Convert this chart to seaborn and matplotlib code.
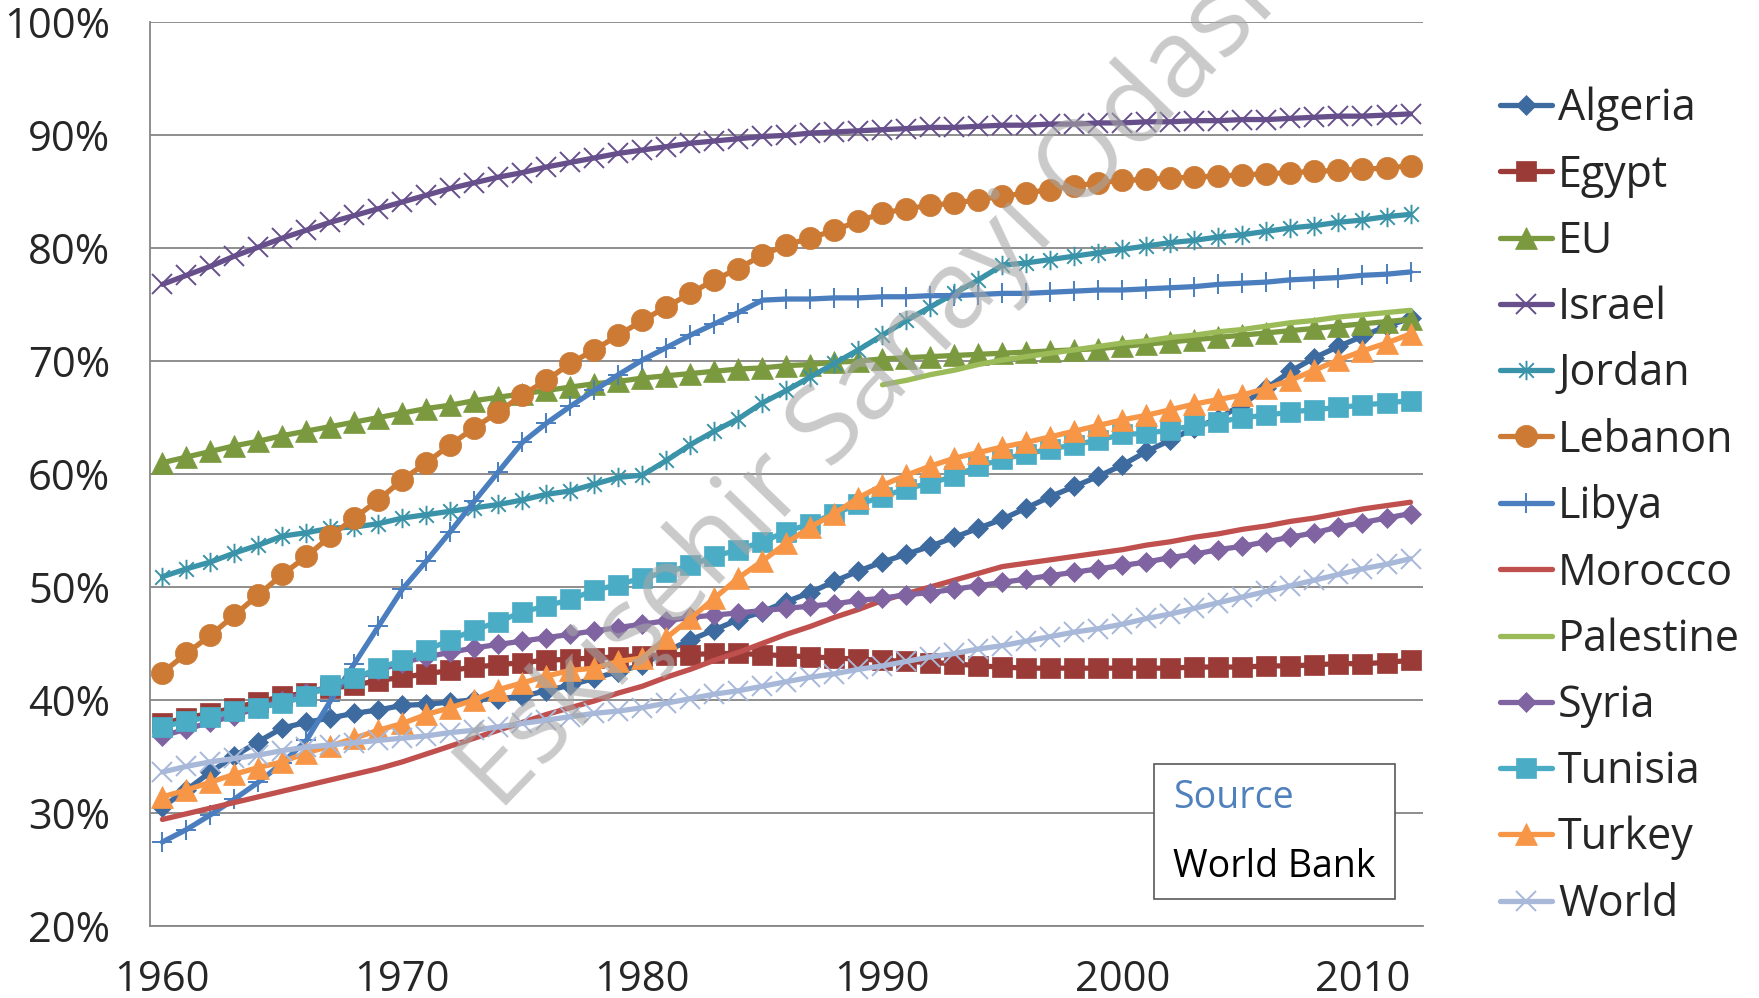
import matplotlib
matplotlib.use("Agg")
import matplotlib.pyplot as plt
import seaborn as sns
from matplotlib.patches import Rectangle
from matplotlib.path import Path
from matplotlib.ticker import FuncFormatter

# Urban population (% of total), World Bank
years = list(range(1960, 2013))

algeria = [30.5, 32.0, 33.6, 35.0, 36.3, 37.5, 38.0, 38.4, 38.8, 39.1,
           39.5, 39.6, 39.8, 40.0, 40.1, 40.3, 40.8, 41.3, 41.9, 42.5,
           43.1, 44.3, 45.3, 46.2, 47.1, 47.8, 48.7, 49.5, 50.5, 51.4,
           52.2, 52.9, 53.6, 54.4, 55.2, 56.0, 57.0, 58.0, 58.9, 59.8,
           60.8, 62.0, 63.0, 64.1, 64.9, 66.2, 67.6, 69.1, 70.3, 71.3,
           72.2, 73.1, 73.8]
egypt = [37.9, 38.4, 38.8, 39.3, 39.8, 40.3, 40.6, 41.0, 41.3, 41.7,
         42.0, 42.3, 42.6, 42.9, 43.1, 43.3, 43.5, 43.6, 43.7, 43.8,
         43.9, 44.0, 44.0, 44.1, 44.1, 44.0, 43.9, 43.8, 43.7, 43.6,
         43.5, 43.4, 43.3, 43.2, 43.0, 42.9, 42.8, 42.8, 42.8, 42.8,
         42.8, 42.8, 42.8, 42.9, 42.9, 42.9, 43.0, 43.0, 43.1, 43.2,
         43.2, 43.3, 43.5]
eu = [61.0, 61.5, 62.0, 62.5, 62.9, 63.4, 63.8, 64.2, 64.6, 65.0,
      65.4, 65.8, 66.1, 66.5, 66.8, 67.1, 67.4, 67.7, 68.0, 68.2,
      68.5, 68.7, 68.9, 69.1, 69.3, 69.4, 69.6, 69.7, 69.9, 70.0,
      70.2, 70.3, 70.4, 70.5, 70.6, 70.7, 70.8, 70.9, 71.0, 71.1,
      71.3, 71.5, 71.7, 71.9, 72.1, 72.3, 72.5, 72.7, 72.9, 73.1,
      73.3, 73.5, 73.7]
israel = [76.8, 77.6, 78.4, 79.3, 80.1, 80.9, 81.6, 82.3, 82.9, 83.5,
          84.1, 84.7, 85.3, 85.8, 86.3, 86.7, 87.2, 87.6, 88.0, 88.4,
          88.7, 89.0, 89.3, 89.5, 89.7, 89.9, 90.0, 90.2, 90.3, 90.4,
          90.5, 90.6, 90.7, 90.7, 90.8, 90.9, 90.9, 91.0, 91.0, 91.1,
          91.1, 91.2, 91.2, 91.3, 91.3, 91.4, 91.4, 91.5, 91.6, 91.7,
          91.7, 91.8, 91.9]
jordan = [50.9, 51.6, 52.2, 53.0, 53.7, 54.5, 54.8, 55.2, 55.3, 55.6,
          56.1, 56.4, 56.7, 57.0, 57.3, 57.7, 58.2, 58.5, 59.1, 59.7,
          59.9, 61.2, 62.6, 63.8, 64.9, 66.3, 67.4, 68.6, 69.8, 71.0,
          72.3, 73.6, 74.8, 76.0, 77.2, 78.5, 78.7, 79.0, 79.3, 79.6,
          79.9, 80.2, 80.5, 80.7, 81.0, 81.2, 81.5, 81.8, 82.0, 82.3,
          82.5, 82.8, 83.0]
lebanon = [42.4, 44.1, 45.7, 47.5, 49.3, 51.1, 52.7, 54.5, 56.1, 57.7,
           59.5, 61.0, 62.6, 64.1, 65.5, 67.0, 68.3, 69.8, 71.0, 72.3,
           73.6, 74.8, 76.0, 77.2, 78.2, 79.4, 80.3, 80.9, 81.6, 82.4,
           83.1, 83.5, 83.8, 84.0, 84.3, 84.6, 84.9, 85.2, 85.5, 85.8,
           86.0, 86.1, 86.2, 86.3, 86.4, 86.5, 86.6, 86.7, 86.8, 86.9,
           87.0, 87.1, 87.3]
libya = [27.4, 28.5, 29.8, 31.2, 32.7, 34.4, 36.4, 39.9, 43.2, 46.5,
         49.8, 52.3, 54.9, 57.6, 60.2, 62.8, 64.5, 66.0, 67.4, 68.8,
         70.1, 71.2, 72.3, 73.3, 74.3, 75.4, 75.5, 75.5, 75.6, 75.6,
         75.7, 75.7, 75.8, 75.8, 75.9, 76.0, 76.0, 76.1, 76.2, 76.3,
         76.3, 76.4, 76.5, 76.6, 76.8, 76.9, 77.0, 77.2, 77.3, 77.4,
         77.6, 77.7, 77.9]
morocco = [29.4, 29.9, 30.4, 30.9, 31.4, 31.9, 32.4, 32.9, 33.4, 33.9,
           34.5, 35.2, 35.9, 36.6, 37.3, 38.0, 38.7, 39.3, 39.9, 40.6,
           41.2, 42.0, 42.7, 43.5, 44.2, 45.0, 45.8, 46.5, 47.3, 48.0,
           48.8, 49.4, 50.0, 50.6, 51.2, 51.8, 52.1, 52.4, 52.7, 53.0,
           53.3, 53.7, 54.0, 54.4, 54.7, 55.1, 55.4, 55.8, 56.1, 56.5,
           56.9, 57.2, 57.5]
palestine_years = list(range(1990, 2013))
palestine = [67.9, 68.3, 68.8, 69.2, 69.7, 70.1, 70.4, 70.7, 71.0, 71.3,
             71.6, 71.8, 72.1, 72.3, 72.6, 72.8, 73.1, 73.4, 73.6, 73.9,
             74.1, 74.3, 74.5]
syria = [36.8, 37.4, 38.0, 38.6, 39.3, 39.9, 40.6, 41.2, 41.9, 42.6,
         43.3, 43.8, 44.2, 44.6, 44.9, 45.2, 45.5, 45.8, 46.1, 46.4,
         46.7, 47.0, 47.3, 47.5, 47.7, 47.9, 48.1, 48.3, 48.5, 48.8,
         49.0, 49.3, 49.5, 49.8, 50.1, 50.4, 50.7, 51.0, 51.3, 51.6,
         51.9, 52.2, 52.6, 52.9, 53.3, 53.6, 54.0, 54.4, 54.8, 55.3,
         55.7, 56.1, 56.5]
tunisia = [37.6, 38.1, 38.5, 39.0, 39.3, 39.7, 40.3, 41.3, 41.9, 42.8,
           43.5, 44.4, 45.3, 46.2, 46.9, 47.8, 48.3, 48.9, 49.7, 50.2,
           50.8, 51.3, 51.9, 52.7, 53.3, 54.0, 54.9, 55.6, 56.5, 57.3,
           58.0, 58.7, 59.2, 59.8, 60.7, 61.3, 61.8, 62.2, 62.6, 63.0,
           63.5, 63.6, 63.9, 64.3, 64.6, 65.0, 65.2, 65.5, 65.7, 65.9,
           66.1, 66.3, 66.5]
turkey = [31.4, 32.0, 32.7, 33.4, 34.0, 34.5, 35.3, 35.9, 36.6, 37.3,
          37.9, 38.7, 39.3, 40.0, 40.9, 41.5, 42.1, 42.6, 42.8, 43.4,
          43.7, 45.5, 47.2, 49.0, 50.8, 52.3, 53.9, 55.3, 56.5, 57.9,
          59.0, 59.9, 60.7, 61.4, 61.9, 62.4, 62.8, 63.3, 63.8, 64.3,
          64.8, 65.2, 65.7, 66.2, 66.6, 67.0, 67.6, 68.3, 69.2, 70.1,
          70.9, 71.6, 72.4]
world = [33.6, 34.1, 34.5, 34.8, 35.1, 35.5, 35.8, 36.0, 36.2, 36.4,
         36.6, 36.8, 37.1, 37.3, 37.6, 37.9, 38.2, 38.5, 38.8, 39.0,
         39.3, 39.7, 40.1, 40.5, 40.8, 41.2, 41.6, 42.0, 42.3, 42.7,
         43.0, 43.4, 43.8, 44.1, 44.5, 44.8, 45.2, 45.6, 46.0, 46.3,
         46.7, 47.2, 47.6, 48.1, 48.6, 49.1, 49.6, 50.1, 50.6, 51.1,
         51.6, 52.0, 52.5]

y_ticks = [20, 30, 40, 50, 60, 70, 80, 90, 100]
x_ticks = [1960, 1970, 1980, 1990, 2000, 2010]

# asterisk marker: vertical bar plus an x
star = Path([(0, -1), (0, 1), (-0.75, -0.75), (0.75, 0.75), (-0.75, 0.75), (0.75, -0.75)],
            [Path.MOVETO, Path.LINETO, Path.MOVETO, Path.LINETO, Path.MOVETO, Path.LINETO])

# name, x, y, colour, marker, marker size, marker edge width
series = [
    ("Algeria", years, algeria, "#3d6a9f", "D", 10.5, 0.5),
    ("Egypt", years, egypt, "#9b3b38", "s", 15, 0.5),
    ("EU", years, eu, "#7b9a3f", "^", 16, 0.5),
    ("Israel", years, israel, "#664f8a", "x", 14, 1.4),
    ("Jordan", years, jordan, "#3a93a8", star, 14, 1.4),
    ("Lebanon", years, lebanon, "#cc7a34", "o", 16, 0.5),
    ("Libya", years, libya, "#4a7ebf", "+", 14, 1.4),
    ("Morocco", years, morocco, "#c0504d", None, 0, 0),
    ("Palestine", palestine_years, palestine, "#9bbb59", None, 0, 0),
    ("Syria", years, syria, "#8064a2", "D", 10.5, 0.5),
    ("Tunisia", years, tunisia, "#4bacc6", "s", 15, 0.5),
    ("Turkey", years, turkey, "#f79646", "^", 16, 0.5),
    ("World", years, world, "#a8b8d9", "x", 15, 1.4),
]

sns.set_style("white")
plt.rcParams['font.family'] = ['Open Sans', 'DejaVu Sans']

fig = plt.figure(figsize=(17.59, 9.98), dpi=100)
ax = fig.add_axes([0.0855, 0.0726, 0.7232, 0.9049])

for name, xs, ys, col, mk, ms, mew in series:
    sns.lineplot(x=xs, y=ys, ax=ax, color=col, linewidth=3.8, marker=mk,
                 markersize=ms, markeredgewidth=mew, markeredgecolor=col,
                 markerfacecolor=col, label=name, legend=False)

ax.set_xlim(1959.5, 2012.5)
ax.set_ylim(20, 100)
ax.set_xticks(x_ticks)
ax.set_yticks(y_ticks)
ax.yaxis.set_major_formatter(FuncFormatter(lambda v, p: f"{v:.0f}%"))
ax.tick_params(axis='y', length=0, pad=29, labelsize=30)
ax.tick_params(axis='x', length=0, pad=24, labelsize=30)
ax.yaxis.grid(True, color="#868686", linewidth=1.3)
ax.set_axisbelow(True)
for side in ["top", "right"]:
    ax.spines[side].set_visible(False)
for side in ["left", "bottom"]:
    ax.spines[side].set_color("#868686")
    ax.spines[side].set_linewidth(1.3)

handles, labels = ax.get_legend_handles_labels()
ax.legend(handles, labels, loc="upper left", bbox_to_anchor=(0.8527, 0.913),
          bbox_transform=fig.transFigure, frameon=False, fontsize=31,
          handlelength=1.2, handletextpad=0.15, labelspacing=0.505,
          borderpad=0, borderaxespad=0)

# source box
fig.add_artist(Rectangle((0.656, 0.0996), 0.137, 0.135, transform=fig.transFigure,
                         facecolor="white", edgecolor="#595959", linewidth=1.2, zorder=5))
fig.text(0.667, 0.2008, "Source", color="#4f81bd", fontsize=27, va="center", zorder=6)
fig.text(0.667, 0.131, "World Bank", color="black", fontsize=27, va="center", zorder=6)

# watermark
fig.text(0.494, 0.609, "Eskişehir Sanayi Odası", rotation=46, ha="center", va="center",
         rotation_mode="anchor", fontsize=78, color="#a6a6a6", alpha=0.6, zorder=10)

fig.savefig("out.png", dpi=100)
